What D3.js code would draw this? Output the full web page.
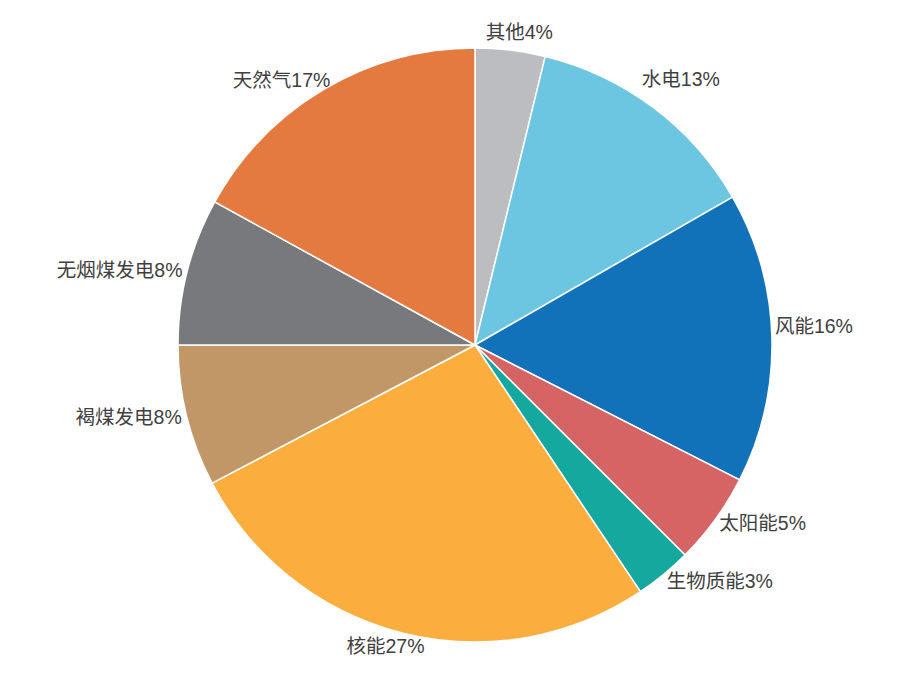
<!DOCTYPE html>
<meta charset="utf-8">
<html>
<head>
    <script src="https://d3js.org/d3.v7.min.js"></script>
    <style>
        body { margin: 0; background: #fff; }
    </style>
</head>
<body>
    <script>
        // 发电结构占比（顺时针，从12点方向开始）
        const names = ["其他", "水电", "风能", "太阳能", "生物质能", "核能", "褐煤发电", "无烟煤发电", "天然气"];
        const values = [3.8, 12.9, 15.8, 5.0, 3.1, 26.7, 7.7, 8.0, 17.0];
        const labels = ["4%", "13%", "16%", "5%", "3%", "27%", "8%", "8%", "17%"];
        const colors = ["#bcbdc1", "#6cc5e1", "#1172ba", "#d76464", "#14a89e", "#fbae3e", "#c29768", "#78797d", "#e57a41"];

        const width = 906, height = 681;
        const cx = 475, cy = 345, radius = 297;

        const dataset = names.map((n, i) => ({ name: n, value: values[i], label: labels[i], color: colors[i] }));

        const svg = d3.select('body').append('svg')
            .attr('width', width)
            .attr('height', height);

        const g = svg.append('g').attr('transform', `translate(${cx},${cy})`);

        const pie = d3.pie().sort(null).value(d => d.value);
        const arc = d3.arc().innerRadius(0).outerRadius(radius);
        const arcs = pie(dataset);

        g.selectAll('path')
            .data(arcs)
            .enter()
            .append('path')
            .attr('d', arc)
            .attr('fill', d => d.data.color)
            .attr('stroke', '#fff')
            .attr('stroke-width', 1.5)
            .attr('stroke-linejoin', 'round');

        // labels outside the pie (roughly like excel "outside end")
        const labelR = radius + 5;
        const fontSize = 19.5;
        // a few labels were moved by hand in the original
        const nudge = { "其他": [2, -4], "水电": [-13, -21], "风能": [-2, -11] };

        const labelG = g.selectAll('text')
            .data(arcs)
            .enter()
            .append('text')
            .style('font-family', '"Liberation Sans", "Noto Sans CJK SC", sans-serif')
            .style('font-size', fontSize + 'px')
            .style('fill', '#404040')
            .attr('dominant-baseline', 'central')
            .attr('text-anchor', 'middle')
            .text(d => d.data.name + d.data.label);

        labelG.each(function (d) {
            const a = (d.startAngle + d.endAngle) / 2;
            const s = Math.sin(a), c = Math.cos(a);
            const w = this.getComputedTextLength();
            const h = fontSize;
            const fx = Math.max(-1, Math.min(1, 1.6 * s));
            const fy = Math.pow(c, 5);
            const n = nudge[d.data.name] || [0, 0];
            d3.select(this)
                .attr('x', s * labelR + fx * w / 2 + n[0])
                .attr('y', -c * labelR - fy * h / 2 + n[1]);
        });
    </script>
</body>
</html>
